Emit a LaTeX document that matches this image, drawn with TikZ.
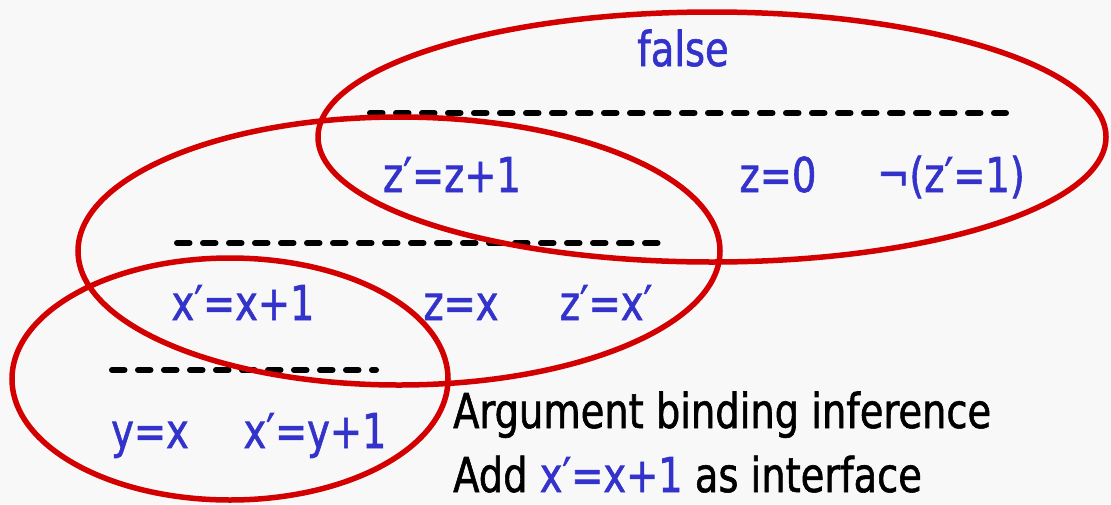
\documentclass[tikz,border=0pt]{standalone}
\usepackage{fontspec}
\setmainfont{DejaVu Sans}[FakeStretch=0.8,FakeBold=1.2]
\definecolor{bgc}{RGB}{248,248,248}
\definecolor{eqblue}{RGB}{51,51,204}
\definecolor{ringred}{RGB}{210,0,0}
\begin{document}
\begin{tikzpicture}[x=1pt,y=-1pt,
  lbl/.style={inner sep=0pt, font=\fontsize{48}{54}\selectfont},
  eq/.style={lbl, text=eqblue, anchor=base},
  txt/.style={lbl, text=black, anchor=base west},
  rule/.style={line width=6pt, line cap=round, dash pattern=on 12.5pt off 13.5pt},
  ring/.style={draw=ringred, line width=5.5pt}]
\useasboundingbox (0,0) rectangle (1111,504);
\fill[bgc] (0,0) rectangle (1111,504);
\clip (0,0) rectangle (1111,504);
% top level
\node[eq] (f) at (683,66) {false};
\coordinate (d1a) at (370,113); \coordinate (d1b) at (1006,113);
\draw[rule] (d1a) -- (d1b);
\node[eq] (e1) at (452,192) {z′=z+1};
\node[eq] (e2) at (778,192) {z=0};
\node[eq] (e3) at (951,192) {¬(z′=1)};
% middle level
\coordinate (d2a) at (177,243); \coordinate (d2b) at (660,243);
\draw[rule] (d2a) -- (d2b);
\node[eq] (e4) at (243,320) {x′=x+1};
\node[eq] (e5) at (461,320) {z=x};
\node[eq] (e6) at (606,320) {z′=x′};
% bottom level
\coordinate (d3a) at (112,370); \coordinate (d3b) at (376,370);
\draw[rule] (d3a) -- (d3b);
\node[eq] (e7) at (150,448) {y=x};
\node[eq] (e8) at (315,448) {x′=y+1};
% caption
\node[txt] (t1) at (453,428) {Argument binding inference};
\node[txt] (t2) at (453,492) {Add \textcolor{eqblue}{x′=x+1} as interface};
% ellipses
\draw[ring] (712,137) ellipse [x radius=394pt, y radius=125pt];
\draw[ring] (399,251) ellipse [x radius=321pt, y radius=134pt];
\draw[ring] (230,379) ellipse [x radius=218pt, y radius=121pt];
\end{tikzpicture}
\end{document}
